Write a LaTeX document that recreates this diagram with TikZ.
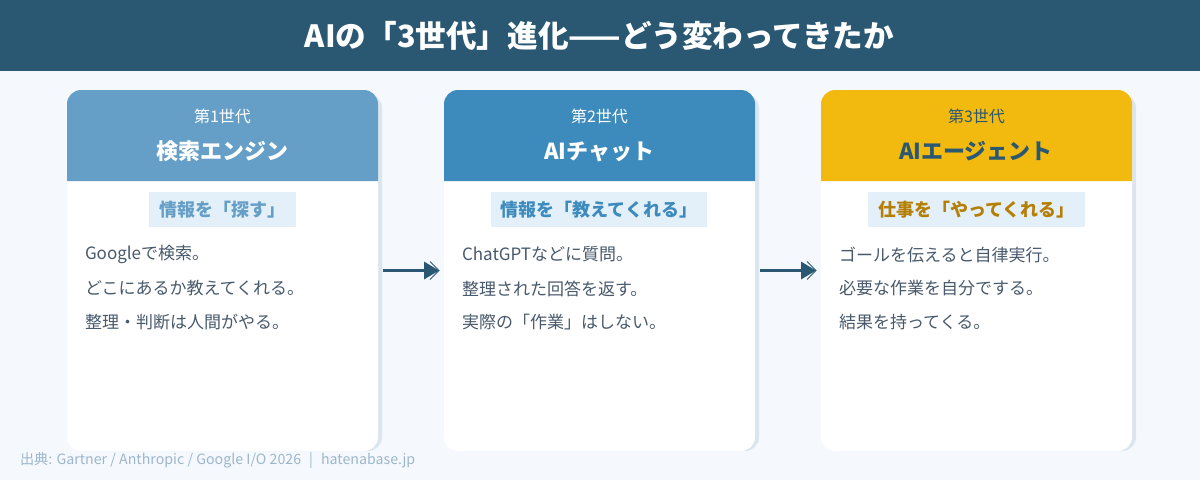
\documentclass[tikz,border=0pt]{standalone}
\usepackage{fontspec}
\setmainfont{Noto Sans CJK JP}
\usetikzlibrary{calc}
\definecolor{bg}{HTML}{F5F9FE}
\definecolor{navy}{HTML}{2A5873}
\definecolor{shadowc}{HTML}{DAE5F0}
\definecolor{blueA}{HTML}{659FC7}
\definecolor{blueB}{HTML}{3D8BBD}
\definecolor{gold}{HTML}{F2B90F}
\definecolor{goldt}{HTML}{B57F05}
\definecolor{tagbg}{HTML}{E3F0F9}
\definecolor{bodyc}{HTML}{48596B}
\definecolor{footc}{HTML}{9DB6CC}
\tikzset{x=1pt,y=-1pt,
  txt/.style={inner sep=0pt,outer sep=0pt},
  titletxt/.style={txt,text=white,font=\fontsize{30.6}{36}\selectfont\bfseries},
  gentxt/.style={txt,text=white,font=\fontsize{16}{19}\selectfont},
  nametxt/.style={txt,font=\fontsize{22}{27}\selectfont\bfseries},
  tagbox/.style={inner sep=0pt,outer sep=0pt,fill=tagbg,minimum height=35pt,font=\fontsize{18}{21}\selectfont\bfseries},
  bodytxt/.style={txt,anchor=west,text=bodyc,font=\fontsize{17}{20}\selectfont},
  foottxt/.style={txt,anchor=west,text=footc,font=\fontsize{14.2}{17}\selectfont},
  connector/.style={draw=navy,line width=3pt},
  headfill/.style={fill=navy,draw=none},
  chevron/.style={draw=navy,line width=0.8pt}
}
\newcommand{\cardshape}[2]{%
  \fill[shadowc,rounded corners=14pt] (#1+4,94) rectangle (#1+315,451);
  \fill[white,rounded corners=14pt] (#1,90) rectangle (#1+311,451);
  \fill[#2] (#1,181) -- (#1,104) .. controls (#1,96.3) and (#1+6.3,90) .. (#1+14,90) -- (#1+297,90) .. controls (#1+304.7,90) and (#1+311,96.3) .. (#1+311,104) -- (#1+311,181) -- cycle;
}
\newcommand{\arrowhead}[1]{%
  \fill[headfill] ($(#1)+(-15,-9)$) -- (#1) -- ($(#1)+(-15,9)$) -- cycle;
  \draw[chevron] ($(#1)+(-9,-9)$) -- (#1) -- ($(#1)+(-9,9)$);
}
\begin{document}
\begin{tikzpicture}
\useasboundingbox (0,0) rectangle (1200,480);
\fill[bg] (0,0) rectangle (1200,480);
\fill[navy] (0,0) rectangle (1200,71);
\node[titletxt] (title) at (599.5,35.5) {AIの「3世代」進化——どう変わってきたか};

\cardshape{67}{blueA}
\cardshape{444}{blueB}
\cardshape{821}{gold}

\node[gentxt] (g1) at (222.5,116.5) {第1世代};
\node[nametxt,text=white] (n1) at (222,151.5) {検索エンジン};
\node[tagbox,text=blueA,minimum width=147pt] (t1) at (222.5,209.5) {情報を「探す」};
\node[bodytxt] (b1a) at (85,254.5) {Googleで検索。};
\node[bodytxt] (b1b) at (85,288.5) {どこにあるか教えてくれる。};
\node[bodytxt] (b1c) at (85,322.5) {整理・判断は人間がやる。};

\node[gentxt] (g2) at (599.5,116.5) {第2世代};
\node[nametxt,text=white] (n2) at (599,151.5) {AIチャット};
\node[tagbox,text=blueB,minimum width=216pt] (t2) at (599,209.5) {情報を「教えてくれる」};
\node[bodytxt] (b2a) at (462,254.5) {ChatGPTなどに質問。};
\node[bodytxt] (b2b) at (462,288.5) {整理された回答を返す。};
\node[bodytxt] (b2c) at (462,322.5) {実際の「作業」はしない。};

\node[gentxt,text=navy] (g3) at (976.5,116.5) {第3世代};
\node[nametxt,text=navy] (n3) at (976,151.5) {AIエージェント};
\node[tagbox,text=goldt,minimum width=217pt] (t3) at (976.5,209.5) {仕事を「やってくれる」};
\node[bodytxt] (b3a) at (839,254.5) {ゴールを伝えると自律実行。};
\node[bodytxt] (b3b) at (839,288.5) {必要な作業を自分でする。};
\node[bodytxt] (b3c) at (839,322.5) {結果を持ってくる。};

\coordinate (a1s) at (383,270.5);
\coordinate (a1e) at (439,270.5);
\coordinate (a2s) at (760,270.5);
\coordinate (a2e) at (816,270.5);
\draw[connector] (a1s) -- ($(a1e)+(-10,0)$);
\arrowhead{a1e}
\draw[connector] (a2s) -- ($(a2e)+(-10,0)$);
\arrowhead{a2e}

\node[foottxt] (foot) at (20,460) {出典: Gartner / Anthropic / Google I/O 2026\hspace{8pt}|\hspace{8pt}hatenabase.jp};
\end{tikzpicture}
\end{document}
